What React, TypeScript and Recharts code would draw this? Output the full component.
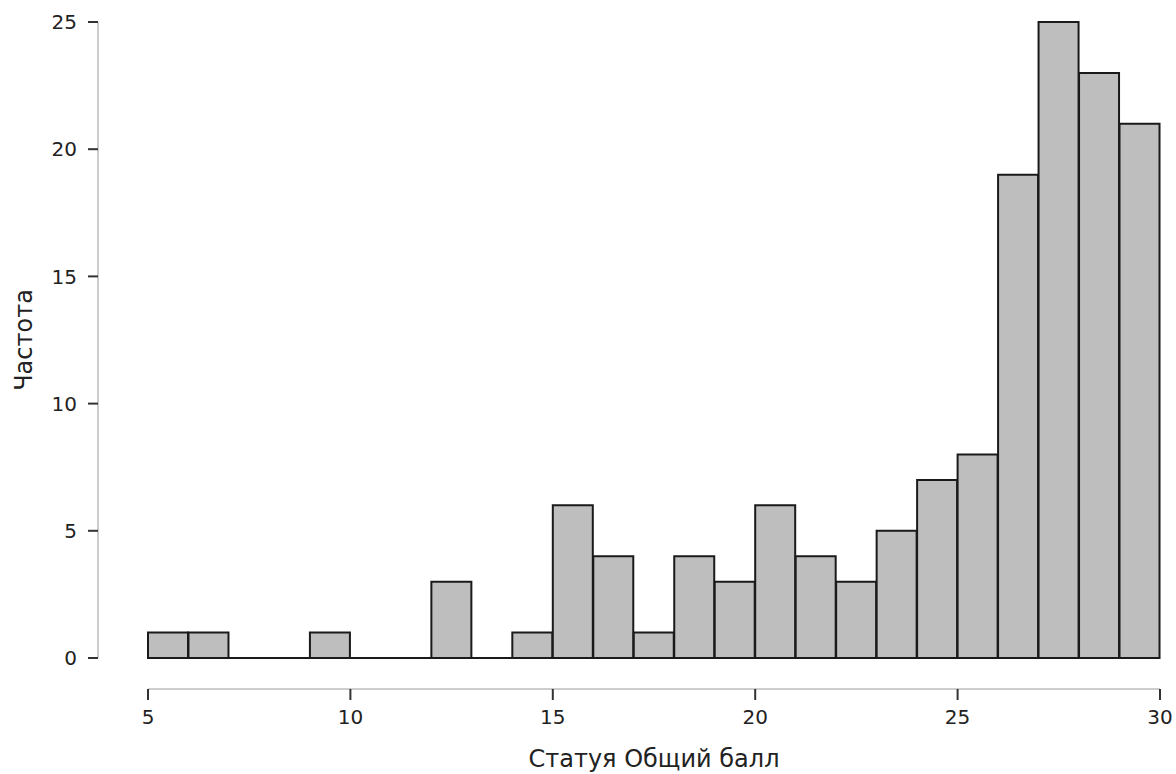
import React from 'react';
import { BarChart, Bar, XAxis, YAxis, ReferenceLine, Label } from 'recharts';

const binLabels = ['5-6','6-7','7-8','8-9','9-10','10-11','11-12','12-13','13-14','14-15','15-16','16-17','17-18','18-19','19-20','20-21','21-22','22-23','23-24','24-25','25-26','26-27','27-28','28-29','29-30'];
const binStarts = [5,6,7,8,9,10,11,12,13,14,15,16,17,18,19,20,21,22,23,24,25,26,27,28,29];
const counts = [1,1,0,0,1,0,0,3,0,1,6,4,1,4,3,6,4,3,5,7,8,19,25,23,21];
const xTicks = [5,10,15,20,25,30];
const yTicks = [0,5,10,15,20,25];
const xDomain = [5, 30];
const xTitle = 'Статуя Общий балл';
const yTitle = 'Частота';

const data = binLabels.map((bin, i) => ({ bin, start: binStarts[i], count: counts[i] }));

const FONT = 'DejaVu Sans, sans-serif';

export default function App() {
  return (
    <div style={{ position: 'absolute', left: 0, top: 0, background: '#fff' }}>
      <BarChart
        width={1176}
        height={774}
        data={data}
        margin={{ top: 22, right: 16, bottom: 0, left: 0 }}
        barCategoryGap={0}
        barGap={0}
      >
        <XAxis
          xAxisId="a_cat"
          dataKey="bin"
          type="category"
          height={31}
          axisLine={false}
          tickLine={false}
          tick={false}
          padding={{ left: 50, right: 0 }}
        />
        <XAxis
          xAxisId="b_num"
          dataKey="start"
          type="number"
          domain={xDomain}
          ticks={xTicks}
          allowDataOverflow
          height={85}
          padding={{ left: 50, right: 0 }}
          axisLine={{ stroke: '#bdbdbd', strokeWidth: 1.5, strokeDasharray: '0,50,1012,0' }}
          tickLine={{ stroke: '#333', strokeWidth: 2 }}
          tickSize={11}
          tickMargin={10}
          tick={{ fill: '#222', fontSize: 20, fontFamily: FONT }}
        >
          <Label
            value={xTitle}
            position="insideBottom"
            dx={25}
            offset={7}
            style={{ fill: '#222', fontSize: 24, fontFamily: FONT }}
          />
        </XAxis>
        <YAxis
          type="number"
          domain={[0, 25]}
          ticks={yTicks}
          width={98}
          axisLine={{ stroke: '#bdbdbd', strokeWidth: 1.5 }}
          tickLine={{ stroke: '#333', strokeWidth: 2 }}
          tickSize={10}
          tickMargin={11}
          tick={{ fill: '#222', fontSize: 20, fontFamily: FONT }}
        >
          <Label
            value={yTitle}
            angle={-90}
            position="insideLeft"
            offset={23}
            style={{ fill: '#222', fontSize: 24, fontFamily: FONT, textAnchor: 'middle' }}
          />
        </YAxis>
        <ReferenceLine
          xAxisId="b_num"
          segment={[{ x: 5, y: 0 }, { x: 30, y: 0 }]}
          stroke="#1a1a1a"
          strokeWidth={2}
        />
        <Bar
          xAxisId="a_cat"
          dataKey="count"
          fill="#bebebe"
          stroke="#1a1a1a"
          strokeWidth={2}
          isAnimationActive={false}
        />
      </BarChart>
    </div>
  );
}
